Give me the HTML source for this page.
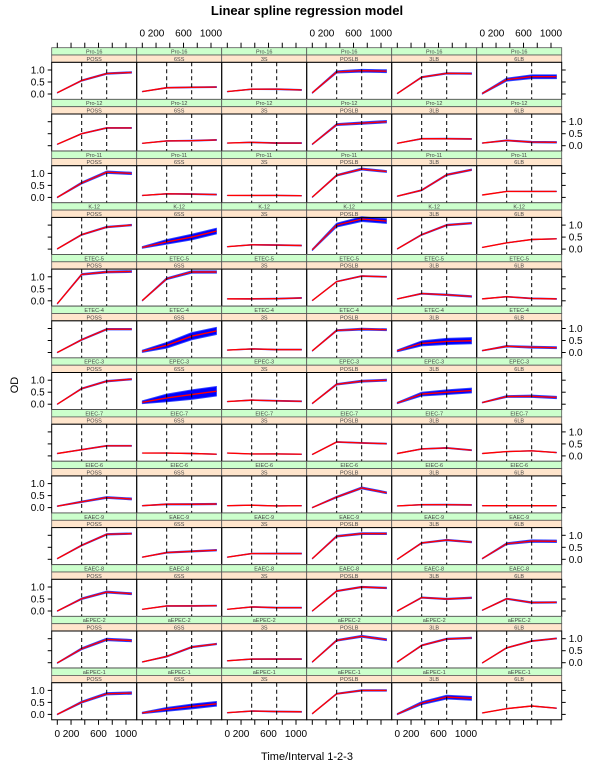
<!DOCTYPE html>
<html><head><meta charset="utf-8"><style>
body{margin:0;background:#fff}
svg{display:block;font-family:"Liberation Sans",sans-serif}
</style></head><body>
<svg id="chart" width="600" height="772" viewBox="0 0 600 772">
<text x="307" y="15" text-anchor="middle" font-size="13" font-weight="bold">Linear spline regression model</text>
<text x="307" y="760" text-anchor="middle" font-size="11">Time/Interval 1-2-3</text>
<text x="0" y="0" transform="translate(18,385) rotate(-90)" text-anchor="middle" font-size="11">OD</text>
<g id="panels"></g>
</svg>
<script>
const rowLabels=["Pro-16","Pro-12","Pro-11","K-12","ETEC-5","ETEC-4","EPEC-3","EIEC-7","EIEC-6","EAEC-9","EAEC-8","aEPEC-2","aEPEC-1"];
const colLabels=["POSS","6SS","3S","POSLB","3LB","6LB"];
const knotTimes=[0,355,719,1080];
const xTicks=[0,200,400,600,800,1000];
const xTickLabels=["0","200","","600","","1000"];
const yTicks=[0,0.5,1.0];
const yTickLabels=["0.0","0.5","1.0"];
const valStart=[
[0.05,0.10,0.10,0.05,0.02,0.02],
[0.06,0.10,0.11,0.06,0.10,0.11],
[0.00,0.08,0.08,0.01,0.05,0.10],
[0.01,0.07,0.10,-0.03,0.01,0.07],
[-0.12,0.01,0.08,0.01,0.08,0.08],
[0.00,0.05,0.10,0.07,0.07,0.08],
[0.00,0.08,0.11,0.03,0.05,0.07],
[0.10,0.12,0.12,0.06,0.10,0.10],
[0.06,0.08,0.08,0.00,0.07,0.08],
[0.03,0.09,0.09,0.03,0.00,0.03],
[0.00,0.07,0.07,0.00,0.00,0.03],
[-0.01,0.03,0.08,0.03,0.03,-0.01],
[0.00,0.06,0.07,0.03,0.01,0.06]];
const valKnot1=[
[0.56,0.26,0.20,0.92,0.70,0.60],
[0.50,0.20,0.14,0.88,0.29,0.22],
[0.60,0.15,0.08,0.92,0.30,0.25],
[0.60,0.30,0.18,1.00,0.60,0.26],
[1.10,0.92,0.08,0.80,0.30,0.17],
[0.53,0.30,0.15,0.92,0.38,0.26],
[0.65,0.26,0.17,0.83,0.42,0.32],
[0.26,0.12,0.08,0.58,0.29,0.18],
[0.24,0.14,0.10,0.44,0.12,0.08],
[0.58,0.28,0.24,0.96,0.68,0.65],
[0.51,0.21,0.17,0.83,0.56,0.51],
[0.58,0.26,0.15,0.93,0.72,0.62],
[0.51,0.21,0.14,0.86,0.47,0.24]];
const valKnot2=[
[0.85,0.28,0.20,0.97,0.86,0.72],
[0.74,0.21,0.11,0.94,0.29,0.15],
[1.05,0.14,0.08,1.18,0.94,0.25],
[0.92,0.50,0.17,1.25,1.00,0.40],
[1.20,1.20,0.09,1.03,0.25,0.10],
[0.97,0.68,0.12,0.97,0.46,0.22],
[0.96,0.40,0.14,0.96,0.50,0.33],
[0.42,0.10,0.08,0.54,0.33,0.21],
[0.42,0.14,0.07,0.82,0.12,0.08],
[1.04,0.33,0.24,1.07,0.80,0.76],
[0.79,0.21,0.14,1.00,0.50,0.35],
[0.97,0.65,0.15,1.10,0.99,0.90],
[0.86,0.33,0.12,1.00,0.72,0.35]];
const valEnd=[
[0.90,0.29,0.17,0.95,0.85,0.72],
[0.74,0.24,0.11,1.00,0.28,0.14],
[1.00,0.12,0.07,1.08,1.15,0.25],
[1.00,0.75,0.15,1.17,1.08,0.43],
[1.22,1.20,0.12,1.00,0.18,0.08],
[0.97,0.90,0.12,0.95,0.49,0.20],
[1.04,0.54,0.12,1.00,0.57,0.28],
[0.42,0.07,0.07,0.51,0.24,0.14],
[0.36,0.15,0.08,0.62,0.11,0.08],
[1.07,0.38,0.24,1.07,0.72,0.75],
[0.72,0.22,0.14,0.96,0.55,0.36],
[0.92,0.78,0.15,0.96,1.03,1.01],
[0.89,0.44,0.11,1.00,0.67,0.26]];
const bandSpread=[
[0.03,0.02,0.02,0.06,0.03,0.08],
[0.02,0.02,0.02,0.05,0.02,0.03],
[0.05,0.02,0.01,0.04,0.03,0.01],
[0.03,0.12,0.02,0.10,0.03,0.01],
[0.04,0.05,0.02,0.02,0.03,0.02],
[0.03,0.15,0.02,0.04,0.13,0.04],
[0.03,0.20,0.02,0.04,0.10,0.05],
[0.02,0.01,0.01,0.02,0.02,0.01],
[0.04,0.03,0.01,0.04,0.02,0.01],
[0.03,0.03,0.02,0.04,0.03,0.05],
[0.04,0.02,0.02,0.03,0.03,0.03],
[0.05,0.03,0.02,0.04,0.03,0.02],
[0.05,0.10,0.02,0.03,0.08,0.01]];
const bandFactor=[0.3,0.8,1,1];

const NS="http://www.w3.org/2000/svg";
const L=51.7,TOP=47.7,PW=85,RH=51.7,SH=7.3,PH=RH-2*SH;
const g=document.getElementById('panels');
function mk(tag,attrs,parent){const e=document.createElementNS(NS,tag);for(const k in attrs)e.setAttribute(k,attrs[k]);(parent||g).appendChild(e);return e;}
function xs(c,t){return L+c*PW+5.6+t*0.0687;}
function ys(r,v){return TOP+r*RH+2*SH+31.7-v*24;}
const nR=rowLabels.length,nC=colLabels.length;
const bottom=TOP+nR*RH, right=L+nC*PW;
for(let r=0;r<nR;r++){
 for(let c=0;c<nC;c++){
  const x0=L+c*PW,y0=TOP+r*RH,pt=y0+2*SH;
  const s1=mk('rect',{x:x0,y:y0,width:PW,height:SH,fill:'#ccffcc',stroke:'#555','stroke-width':0.8});
  
  
  const t1=mk('text',{x:x0+PW/2,y:y0+5.8,'text-anchor':'middle','font-size':5.5,fill:'#444'});t1.textContent=rowLabels[r];
  
  
  const s2=mk('rect',{x:x0,y:y0+SH,width:PW,height:SH,fill:'#ffe5cc',stroke:'#555','stroke-width':0.8});
  
  
  const t2=mk('text',{x:x0+PW/2,y:y0+SH+5.8,'text-anchor':'middle','font-size':5.5,fill:'#444'});t2.textContent=colLabels[c];
  
  
  const vals=[valStart[r][c],valKnot1[r][c],valKnot2[r][c],valEnd[r][c]];
  const sp=bandSpread[r][c];
  let up=[],dn=[];
  knotTimes.forEach((t,i)=>{const hw=sp*bandFactor[i];up.push(xs(c,t)+','+ys(r,vals[i]+hw));dn.unshift(xs(c,t)+','+ys(r,vals[i]-hw));});
  const band=mk('polygon',{points:up.concat(dn).join(' '),fill:'#0000ff',stroke:'#3344ff','stroke-width':0.9,'stroke-linejoin':'round'});
  
  
  const pts=knotTimes.map((t,i)=>xs(c,t)+','+ys(r,vals[i])).join(' ');
  const red=mk('polyline',{points:pts,fill:'none',stroke:'#ff0000','stroke-width':1.4});
  
  
  [355,719].forEach(k=>{
   const d=mk('line',{x1:xs(c,k),x2:xs(c,k),y1:pt,y2:pt+PH,stroke:'#000','stroke-width':1,'stroke-dasharray':'4,3'});
   
   
  });
  const b=mk('rect',{x:x0,y:pt,width:PW,height:PH,fill:'none',stroke:'#000','stroke-width':1});
  
  
 }
 yTicks.forEach((v,i)=>{
  const y=ys(r,v);
  const tl=mk('line',{x1:L-4,x2:L,y1:y,y2:y,stroke:'#000','stroke-width':1});
  
  
  const tr=mk('line',{x1:right,x2:right+4,y1:y,y2:y,stroke:'#000','stroke-width':1});
  
  
  const txt=mk('text',{'font-size':10,y:y+3.5});
  if(r%2===0){txt.setAttribute('x',L-7);txt.setAttribute('text-anchor','end');}
  else{txt.setAttribute('x',right+7);txt.setAttribute('text-anchor','start');}
  txt.textContent=yTickLabels[i];
  
  
 });
}
for(let c=0;c<nC;c++){
 xTicks.forEach((t,i)=>{
  const x=xs(c,t);
  const a=mk('line',{x1:x,x2:x,y1:TOP-5,y2:TOP,stroke:'#000','stroke-width':1});
  
  
  const b=mk('line',{x1:x,x2:x,y1:bottom,y2:bottom+5,stroke:'#000','stroke-width':1});
  
  
  if(xTickLabels[i]){
   const y=(c%2===0)?bottom+17:TOP-11;
   const tx=mk('text',{x:x,y:y,'text-anchor':'middle','font-size':10});
   tx.textContent=xTickLabels[i];
   
   
  }
 });
}
</script>
</body></html>
